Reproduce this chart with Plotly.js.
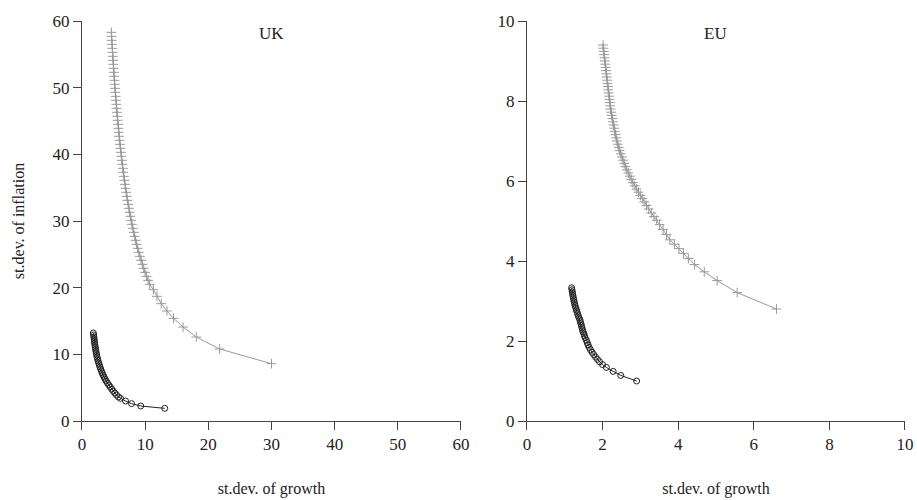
<!DOCTYPE html>
<html>
<head>
<meta charset="utf-8">
<script src="https://cdn.plot.ly/plotly-3.0.1.min.js"></script>
<style>html,body{margin:0;padding:0;background:#fff;}#chart{width:917px;height:500px;}</style>
</head>
<body>
<div id="chart"></div>
<script>
// UK: "+" series (grey)
var ukCrossX = [4.65,4.68,4.72,4.76,4.80,4.84,4.88,4.92,4.96,5.00,5.05,5.09,5.14,5.18,5.23,5.28,5.33,5.38,5.43,5.48,5.54,5.59,5.65,5.71,5.77,5.83,5.89,5.96,6.02,6.09,6.16,6.23,6.31,6.38,6.46,6.54,6.63,6.72,6.81,6.90,7.00,7.10,7.20,7.31,7.42,7.54,7.66,7.78,7.91,8.05,8.19,8.34,8.49,8.65,8.82,8.99,9.17,9.36,9.56,9.77,9.99,10.22,10.47,10.73,11.30,11.87,12.55,13.45,14.50,16.00,18.10,21.80,30.00];
var ukCrossY = [58.3,57.7,57.1,56.5,55.9,55.3,54.7,54.1,53.5,52.9,52.3,51.7,51.1,50.5,49.9,49.3,48.7,48.1,47.5,46.9,46.3,45.7,45.1,44.5,43.9,43.3,42.7,42.1,41.5,40.9,40.3,39.7,39.1,38.5,37.9,37.3,36.7,36.1,35.5,34.9,34.3,33.7,33.1,32.5,31.9,31.3,30.7,30.1,29.5,28.9,28.3,27.7,27.1,26.5,25.9,25.3,24.7,24.1,23.5,22.9,22.3,21.7,21.1,20.5,19.7,18.7,17.6,16.5,15.4,14.1,12.6,10.8,8.6];
// UK: "o" series (black)
var ukCircX = [1.80,1.84,1.88,1.92,1.96,2.00,2.05,2.10,2.15,2.20,2.26,2.33,2.39,2.47,2.56,2.65,2.75,2.85,2.96,3.08,3.20,3.34,3.49,3.65,3.83,4.03,4.25,4.48,4.70,4.95,5.20,5.47,5.78,6.10,6.90,7.85,9.30,13.10];
var ukCircY = [13.2,12.9,12.6,12.3,12.0,11.7,11.4,11.1,10.8,10.5,10.2,9.9,9.6,9.3,9.0,8.7,8.4,8.1,7.8,7.5,7.2,6.9,6.6,6.3,6.0,5.7,5.4,5.1,4.8,4.5,4.2,3.9,3.6,3.4,3.0,2.6,2.25,1.9];
// EU: "+" series (grey)
var euCrossX = [2.01,2.02,2.03,2.04,2.05,2.06,2.07,2.08,2.09,2.10,2.11,2.12,2.13,2.14,2.15,2.16,2.17,2.18,2.19,2.20,2.21,2.23,2.24,2.26,2.27,2.29,2.31,2.32,2.34,2.36,2.38,2.40,2.43,2.45,2.48,2.51,2.54,2.57,2.60,2.64,2.68,2.72,2.76,2.80,2.85,2.90,2.95,3.00,3.05,3.10,3.16,3.22,3.29,3.36,3.43,3.51,3.60,3.69,3.78,3.90,4.02,4.14,4.27,4.43,4.69,5.03,5.56,6.60];
var euCrossY = [9.40,9.32,9.24,9.16,9.08,9.00,8.92,8.84,8.76,8.68,8.60,8.52,8.44,8.36,8.28,8.20,8.12,8.04,7.96,7.88,7.80,7.72,7.64,7.56,7.48,7.40,7.32,7.24,7.16,7.08,7.00,6.92,6.84,6.76,6.68,6.60,6.52,6.44,6.36,6.28,6.20,6.12,6.04,5.96,5.88,5.80,5.72,5.64,5.56,5.48,5.39,5.30,5.20,5.11,5.02,4.91,4.79,4.66,4.53,4.42,4.31,4.19,4.06,3.91,3.73,3.51,3.21,2.80];
// EU: "o" series (black)
var euCircX = [1.180,1.190,1.198,1.207,1.217,1.227,1.238,1.248,1.260,1.274,1.290,1.306,1.322,1.340,1.357,1.376,1.400,1.411,1.428,1.441,1.455,1.469,1.484,1.505,1.521,1.538,1.570,1.592,1.616,1.647,1.680,1.721,1.765,1.813,1.864,1.920,2.000,2.100,2.280,2.480,2.900];
var euCircY = [3.33,3.28,3.23,3.18,3.13,3.08,3.03,2.98,2.93,2.88,2.83,2.78,2.73,2.68,2.63,2.58,2.53,2.48,2.43,2.38,2.33,2.28,2.23,2.18,2.13,2.08,2.02,1.96,1.90,1.84,1.78,1.72,1.66,1.60,1.54,1.48,1.41,1.34,1.24,1.14,1.00];

var xTitle = "st.dev. of growth";
var yTitle = "st.dev. of inflation";
var panelNames = ["UK", "EU"];

var FONT = "Liberation Serif, Times New Roman, serif";
var crossStyle = {mode:"lines+markers", line:{color:"#9a9a9a", width:1},
  marker:{symbol:"cross-thin-open", size:7, line:{color:"#707070", width:1}}};
var circStyle = {mode:"lines+markers", line:{color:"#222", width:1},
  marker:{symbol:"circle-open", size:6, color:"#222", line:{color:"#222", width:1}}};

function tr(x, y, st, xa, ya) {
  return Object.assign({x:x, y:y, xaxis:xa, yaxis:ya, showlegend:false, hoverinfo:"skip"}, JSON.parse(JSON.stringify(st)));
}
var data = [
  tr(ukCrossX, ukCrossY, crossStyle, "x", "y"),
  tr(ukCircX, ukCircY, circStyle, "x", "y"),
  tr(euCrossX, euCrossY, crossStyle, "x2", "y2"),
  tr(euCircX, euCircY, circStyle, "x2", "y2")
];

function ax(extra) {
  return Object.assign({showline:true, linecolor:"#444", linewidth:1, ticks:"outside", ticklen:8,
    tickcolor:"#444", tickwidth:1, showgrid:false, zeroline:false, mirror:false,
    tickfont:{family:FONT, size:17, color:"#222"}}, extra);
}
var layout = {
  width:917, height:500, margin:{l:0, r:0, t:21, b:79},
  paper_bgcolor:"#fff", plot_bgcolor:"#fff",
  font:{family:FONT, size:16, color:"#222"},
  showlegend:false,
  xaxis: ax({domain:[0.0894, 0.5027], range:[0,60], dtick:10, anchor:"y",
    title:{text:xTitle, font:{family:FONT, size:16, color:"#222"}, standoff:29}}),
  yaxis: ax({domain:[0,1], range:[0,60], dtick:10, anchor:"x",
    title:{text:yTitle, font:{family:FONT, size:16, color:"#222"}, standoff:23}}),
  xaxis2: ax({domain:[0.5747, 0.9869], range:[0,10], dtick:2, anchor:"y2",
    title:{text:xTitle, font:{family:FONT, size:16, color:"#222"}, standoff:29}}),
  yaxis2: ax({domain:[0,1], range:[0,10], dtick:2, anchor:"x2"}),
  annotations:[
    {text:panelNames[0], xref:"x domain", yref:"y domain", x:0.5, y:0.97, yanchor:"middle", showarrow:false,
     font:{family:FONT, size:17, color:"#222"}},
    {text:panelNames[1], xref:"x2 domain", yref:"y2 domain", x:0.5, y:0.97, yanchor:"middle", showarrow:false,
     font:{family:FONT, size:17, color:"#222"}}
  ]
};
Plotly.newPlot("chart", data, layout, {staticPlot:true, displayModeBar:false});
</script>
</body>
</html>
